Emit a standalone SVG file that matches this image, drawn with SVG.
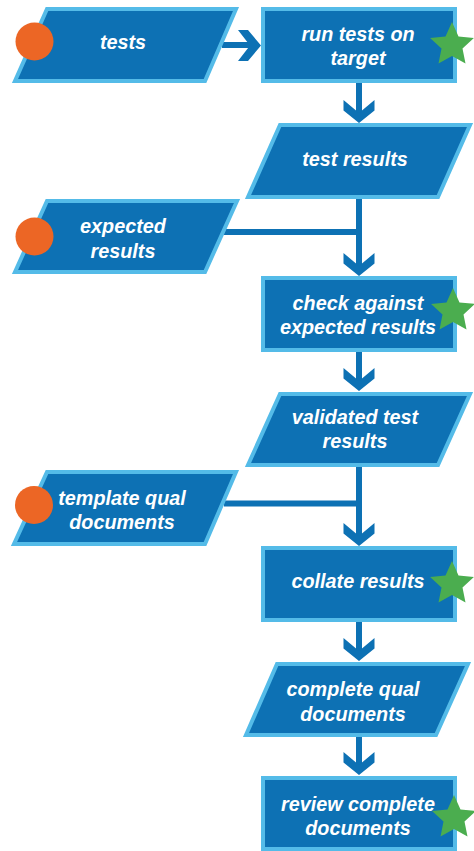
<svg xmlns="http://www.w3.org/2000/svg" width="474" height="851" viewBox="0 0 474 851">
<style>
.n{fill:#0d71b4;stroke:#54bbe8;stroke-width:4}
.l{fill:none;stroke:#0d71b4;stroke-width:6}
.h{fill:#0d71b4}
.o{fill:#ec6625}
.s{fill:#4bad4f}
text{font-family:"Liberation Sans",Arial,sans-serif;font-size:19.800px;font-weight:bold;font-style:italic;fill:#fff;text-anchor:middle}
</style>
<defs>
<polygon id="star" points="0,-23 6.500,-8.500 21.900,-7.100 10.500,3.400 13.500,18.600 0,11 -13.500,18.600 -10.500,3.400 -21.900,-7.100 -6.500,-8.500"/>
<polygon id="head" points="-15.500,-23 -15.500,-12.500 0,0 15.500,-12.500 15.500,-23 0,-10"/>
</defs>
<rect width="474" height="851" fill="#fff"/>
<g id="connectors">
<path class="l" d="M222 45H258"/>
<polygon class="h" points="238,30 248,30 261,45.500 248,61 238,61 250,45.500"/>
<path class="l" d="M359 83V118"/>
<use href="#head" x="359" y="123" class="h"/>
<path class="l" d="M359 199V270M224 232H359"/>
<use href="#head" x="359" y="276" class="h"/>
<path class="l" d="M359 352V386"/>
<use href="#head" x="359" y="391" class="h"/>
<path class="l" d="M359 467V540M224 503.500H359"/>
<use href="#head" x="359" y="546" class="h"/>
<path class="l" d="M359 622V656"/>
<use href="#head" x="359" y="661" class="h"/>
<path class="l" d="M359 737V770"/>
<use href="#head" x="359" y="775" class="h"/>
</g>
<g id="tests">
<polygon class="n" points="47,9 236,9 205,81 15,81"/>
<circle class="o" cx="34.500" cy="41.500" r="19"/>
<text x="123" y="48.700">tests</text>
</g>
<g id="run-tests">
<rect class="n" x="263" y="9" width="192" height="72"/>
<text x="358" y="40.500">run tests on</text>
<text x="358" y="64.500">target</text>
<use href="#star" x="452" y="45" class="s"/>
</g>
<g id="test-results">
<polygon class="n" points="280,125 470,125 438,197 248,197"/>
<text x="355" y="165.700">test results</text>
</g>
<g id="expected-results">
<polygon class="n" points="47,201 237,201 205,272 15,272"/>
<circle class="o" cx="34.500" cy="236.500" r="19"/>
<text x="123" y="232.700">expected</text>
<text x="123" y="257.500">results</text>
</g>
<g id="check">
<rect class="n" x="263" y="278" width="192" height="72"/>
<text x="358" y="309.500">check against</text>
<text x="358" y="333.500">expected results</text>
<use href="#star" x="453" y="311" class="s"/>
</g>
<g id="validated">
<polygon class="n" points="280,394 470,394 438,465 248,465"/>
<text x="355" y="423.500">validated test</text>
<text x="355" y="447.500">results</text>
</g>
<g id="template">
<polygon class="n" points="47,472 236,472 205,544 14,544"/>
<circle class="o" cx="34" cy="505" r="19"/>
<text x="122" y="504.500">template qual</text>
<text x="122" y="528.500">documents</text>
</g>
<g id="collate">
<rect class="n" x="263" y="548" width="192" height="72"/>
<text x="358" y="587.500">collate results</text>
<use href="#star" x="452" y="584" class="s"/>
</g>
<g id="complete-qual">
<polygon class="n" points="277,664 468,664 436,735 246,735"/>
<text x="353" y="695.500">complete qual</text>
<text x="353" y="720.500">documents</text>
</g>
<g id="review">
<rect class="n" x="263" y="778" width="192" height="71"/>
<text x="358" y="810.500">review complete</text>
<text x="358" y="834.500">documents</text>
<use href="#star" x="454" y="818" class="s"/>
</g>
</svg>
